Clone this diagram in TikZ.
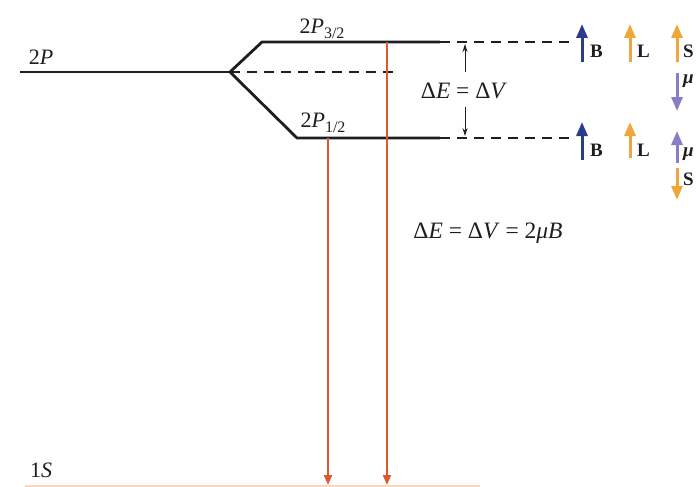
\documentclass[tikz,border=0pt]{standalone}
\usepackage{fontspec}
\setmainfont{Liberation Serif}
\usetikzlibrary{arrows.meta}
\definecolor{levelink}{HTML}{1E1E22}
\definecolor{photon}{HTML}{E0582C}
\definecolor{fieldblue}{HTML}{2C3C8C}
\definecolor{spinamber}{HTML}{EFA63A}
\definecolor{momentviolet}{HTML}{8C7CC4}
\definecolor{groundpeach}{HTML}{F9D7BE}
\newcommand{\subidx}[1]{\raisebox{-0.25em}{\fontsize{16}{16}\selectfont #1}}
\tikzset{
  level/.style={draw=levelink, line width=2.8pt},
  guide/.style={draw=levelink, line width=1.2pt, dash pattern=on 10pt off 7pt},
  gap/.style={draw=levelink, line width=0.8pt, -{Stealth[length=8pt,width=5pt]}},
  transition/.style={draw=photon, line width=2.2pt, -{Triangle[length=10pt,width=8pt]}},
  vec/.style={line width=3pt, -{Triangle[length=14pt,width=11pt]}},
  lbl/.style={inner sep=0pt, text=levelink, font=\fontsize{22}{24}\selectfont},
  eqlbl/.style={inner sep=0pt, text=levelink, font=\fontsize{23.5}{26}\selectfont},
  vlbl/.style={inner sep=0pt, text=levelink, font=\fontsize{19}{20}\selectfont\bfseries}
}
\begin{document}
\begin{tikzpicture}[x=1pt, y=-1pt]
\useasboundingbox (0,0) rectangle (696,487);
% energy levels
\coordinate (p0) at (20,72);
\coordinate (fork) at (230,72);
\coordinate (u1) at (262,42);
\coordinate (u2) at (440,42);
\coordinate (l1) at (297,138);
\coordinate (l2) at (440,138);
\coordinate (mid) at (395,72);
\coordinate (ue) at (575,42);
\coordinate (le) at (575,138);
\coordinate (g0) at (25,486);
\coordinate (g1) at (480,486);
\draw[draw=groundpeach, line width=1.6pt] (g0) -- (g1);
\draw[level] (p0) -- (fork);
\draw[level, line join=miter] (fork) -- (u1) -- (u2);
\draw[level, line join=miter] (fork) -- (l1) -- (l2);
\draw[guide] (fork) -- (mid);
\draw[guide] (u2) -- (ue);
\draw[guide] (l2) -- (le);
% labels
\node[lbl] (t2p) at (41,57) {2\textit{P}};
\node[lbl] (t32) at (322,29) {2\textit{P}\subidx{3/2}};
\node[lbl] (t12) at (323,123) {2\textit{P}\subidx{1/2}};
\node[lbl] (t1s) at (41,470) {1\textit{S}};
% splitting
\node[eqlbl] (split) at (464,91) {Δ\textit{E} = Δ\textit{V}};
\coordinate (su) at (465,44);
\coordinate (sut) at (465,72);
\coordinate (sd) at (465,136);
\coordinate (sdt) at (465,107);
\draw[gap] (sut) -- (su);
\draw[gap] (sdt) -- (sd);
% transitions to 1S
\coordinate (a1) at (328,138);
\coordinate (a1e) at (328,485);
\coordinate (a2) at (387,42);
\coordinate (a2e) at (387,485);
\draw[transition] (a1) -- (a1e);
\draw[transition] (a2) -- (a2e);
\node[eqlbl] (shift) at (488,233) {Δ\textit{E} = Δ\textit{V} = 2\textit{μB}};
% vectors, upper level
\coordinate (b1s) at (582,62); \coordinate (b1e) at (582,24);
\coordinate (l1s) at (630,62); \coordinate (l1e) at (630,24);
\coordinate (s1s) at (677,62); \coordinate (s1e) at (677,24);
\coordinate (m1s) at (677,73); \coordinate (m1e) at (677,111);
\draw[vec, fieldblue] (b1s) -- (b1e);
\draw[vec, spinamber] (l1s) -- (l1e);
\draw[vec, spinamber] (s1s) -- (s1e);
\draw[vec, momentviolet] (m1s) -- (m1e);
\node[vlbl, anchor=west] (B1) at (590,51) {B};
\node[vlbl, anchor=west] (L1) at (637,51) {L};
\node[vlbl, anchor=west] (S1) at (683,51) {S};
\node[vlbl, anchor=west] (M1) at (683,81) {\textit{μ}};
% vectors, lower level
\coordinate (b2s) at (582,160); \coordinate (b2e) at (582,122);
\coordinate (l2s) at (630,158); \coordinate (l2e) at (630,122);
\coordinate (m2s) at (677,163); \coordinate (m2e) at (677,131);
\coordinate (s2s) at (677,168); \coordinate (s2e) at (677,200);
\draw[vec, fieldblue] (b2s) -- (b2e);
\draw[vec, spinamber] (l2s) -- (l2e);
\draw[vec, momentviolet] (m2s) -- (m2e);
\draw[vec, spinamber] (s2s) -- (s2e);
\node[vlbl, anchor=west] (B2) at (590,150) {B};
\node[vlbl, anchor=west] (L2) at (637,150) {L};
\node[vlbl, anchor=west] (M2) at (683,154) {\textit{μ}};
\node[vlbl, anchor=west] (S2) at (683,179) {S};
\end{tikzpicture}
\end{document}
